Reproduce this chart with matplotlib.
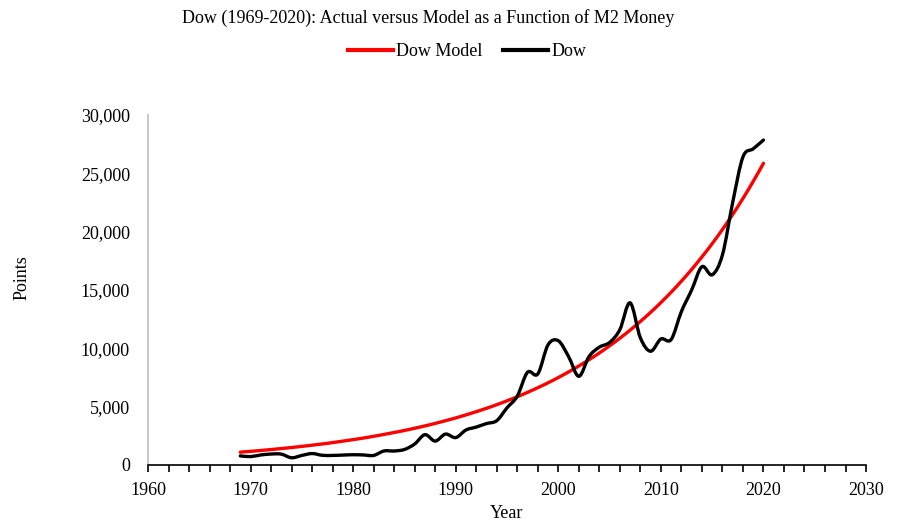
import numpy as np
import matplotlib.pyplot as plt
from matplotlib.path import Path
from matplotlib.patches import PathPatch
from matplotlib.lines import Line2D
from matplotlib.ticker import MultipleLocator, FuncFormatter

plt.rcParams['font.family'] = ['Liberation Serif', 'DejaVu Serif']

years = list(range(1969, 2021))

# Dow, annual values
dow = [780, 720, 860, 940, 930, 620, 820, 980, 830, 820,
       850, 880, 860, 820, 1200, 1200, 1330, 1800, 2600, 2050,
       2650, 2350, 3000, 3250, 3550, 3800, 4900, 5900, 7950, 7800,
       10300, 10650, 9300, 7600, 9300, 10100, 10500, 11600, 13900, 10900,
       9750, 10800, 10750, 13150, 15000, 17000, 16300, 18000, 22500, 26400,
       27100, 27850]

# Dow Model (M2 money), annual values
dow_model = [1100, 1170, 1245, 1325, 1410, 1500, 1595, 1700, 1805, 1920,
             2045, 2175, 2310, 2460, 2620, 2785, 2960, 3150, 3350, 3565,
             3795, 4035, 4295, 4570, 4860, 5170, 5500, 5850, 6225, 6625,
             7045, 7495, 7975, 8485, 9025, 9600, 10215, 10865, 11560, 12300,
             13085, 13920, 14810, 15755, 16760, 17835, 18970, 20185, 21470, 22845,
             24305, 25855]


def smooth_path(xs, ys):
    # Excel-style smoothed line: Bezier segments through the data points
    pts = np.column_stack([xs, ys]).astype(float)
    n = len(pts)
    verts = [pts[0]]
    codes = [Path.MOVETO]
    for i in range(n - 1):
        p0 = pts[i - 1] if i > 0 else pts[i]
        p1 = pts[i]
        p2 = pts[i + 1]
        p3 = pts[i + 2] if i + 2 < n else pts[i + 1]
        c1 = p1 + (p2 - p0) / 6.0
        c2 = p2 - (p3 - p1) / 6.0
        verts += [c1, c2, p2]
        codes += [Path.CURVE4] * 3
    return Path(verts, codes)


fig = plt.figure(figsize=(8.98, 5.25), dpi=100)
ax = fig.add_axes([0.1648, 0.1143, 0.7996, 0.6667])

for vals, col in [(dow_model, '#ff0000'), (dow, '#000000')]:
    patch = PathPatch(smooth_path(years, vals), facecolor='none', edgecolor=col,
                      lw=2.4, capstyle='round', joinstyle='round', transform=ax.transData)
    ax.add_patch(patch)

ax.set_xlim(1960, 2030)
ax.set_ylim(0, 30000)
ax.xaxis.set_major_locator(MultipleLocator(10))
ax.xaxis.set_minor_locator(MultipleLocator(2))
ax.yaxis.set_major_locator(MultipleLocator(5000))
ax.yaxis.set_major_formatter(FuncFormatter(lambda v, p: f'{int(v):,}'))

for s in ['top', 'right']:
    ax.spines[s].set_visible(False)
ax.spines['left'].set_color('#bfbfbf')
ax.spines['left'].set_linewidth(1.2)
ax.spines['bottom'].set_color('black')
ax.spines['bottom'].set_linewidth(1.2)

ax.tick_params(axis='y', length=0, pad=13, labelsize=13)
ax.tick_params(axis='x', which='major', length=5, width=1.2, pad=7, labelsize=13)
ax.tick_params(axis='x', which='minor', length=5, width=1.2)

fig.text(428 / 898, 1 - 18 / 525, 'Dow (1969-2020): Actual versus Model as a Function of M2 Money',
         ha='center', va='center', fontsize=13)
fig.text(22 / 898, 1 - 278 / 525, 'Points', rotation=90, ha='center', va='center', fontsize=13)
fig.text(507 / 898, 1 - 514 / 525, 'Year', ha='center', va='center', fontsize=13)

handles = [Line2D([], [], color='#ff0000', lw=3), Line2D([], [], color='black', lw=3)]
fig.legend(handles, ['Dow Model', 'Dow'], loc='center', bbox_to_anchor=(467 / 898, 1 - 52 / 525),
           ncol=2, frameon=False, fontsize=13, handlelength=2.5, handletextpad=0.2,
           columnspacing=1.1)

fig.savefig('out.png', dpi=100)
